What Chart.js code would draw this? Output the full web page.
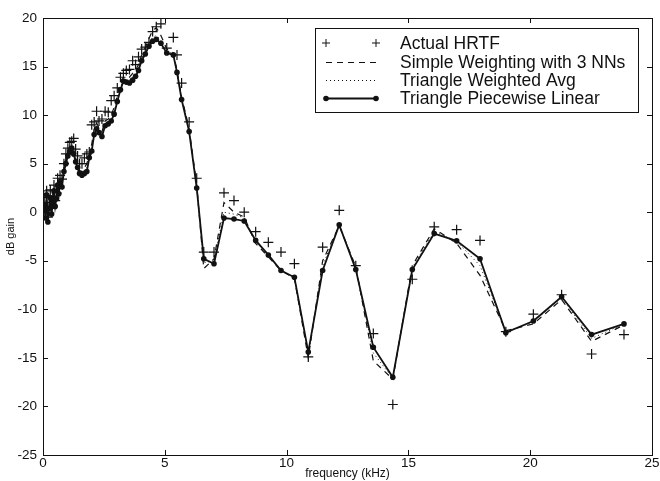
<!DOCTYPE html>
<html lang="en">
  <head>
    <meta charset="UTF-8" />
    <title>HRTF interpolation</title>
    <script src="https://cdn.jsdelivr.net/npm/chart.js"></script>
    <style>
      body { margin: 0; background: #fff; }
    </style>
  </head>
  <body>
    <canvas id="hrtfChart" width="660" height="481"></canvas>

    <script>
      // frequency (kHz) of each sampled point
      const freqs = [
        0.05, 0.1, 0.15, 0.2, 0.25, 0.3, 0.35, 0.4, 0.45, 0.5,
        0.55, 0.6, 0.65, 0.7, 0.78, 0.86, 0.94, 1.02, 1.1, 1.18,
        1.26, 1.34, 1.42, 1.5, 1.6, 1.7, 1.8, 1.9, 2.0, 2.1,
        2.2, 2.3, 2.42, 2.55, 2.68, 2.8, 2.92, 3.05, 3.18, 3.3,
        3.42, 3.55, 3.68, 3.8, 3.92, 4.05, 4.2, 4.35, 4.5, 4.65,
        4.84, 5.08, 5.35, 5.5, 5.69, 6.0, 6.31, 6.6, 7.02, 7.43,
        7.84, 8.26, 8.73, 9.25, 9.77, 10.32, 10.89, 11.48, 12.16, 12.84,
        13.56, 14.36, 15.16, 16.06, 16.98, 17.94, 19.0, 20.13, 21.29, 22.52,
        23.85,
      ];

      const actualHRTF = [
        1.5, 0.2, 2.2, -0.5, 1.0, 2.3, 0.4, 1.5, 2.8, 1.2,
        2.0, 3.5, 2.6, 3.8, 3.4, 5.0, 6.0, 6.6, 7.2, 7.3,
        7.6, 6.5, 5.8, 5.0, 5.0, 5.6, 6.0, 6.2, 9.0, 9.3,
        10.4, 9.4, 9.6, 10.4, 10.3, 11.5, 12.0, 12.8, 13.9, 14.3,
        14.6, 14.7, 15.6, 15.2, 16.0, 16.8, 17.0, 17.5, 18.6, 19.1,
        19.4, 16.9, 18.0, 16.2, 13.3, 9.3, 3.5, -4.1, -4.1, 2.0,
        1.2, 0.0, -2.0, -3.1, -4.1, -5.3, -14.9, -3.6, 0.2, -5.5,
        -12.5, -19.8, -6.9, -1.5, -1.8, -2.9, -12.3, -10.5, -8.5, -14.6,
        -12.6,
      ];

      const simpleNN = [
        1.0, -0.3, 2.0, -0.7, 0.7, 1.8, 0.1, 1.2, 2.5, 0.9,
        1.7, 3.1, 2.2, 3.4, 3.0, 4.6, 5.5, 6.3, 6.8, 7.0,
        6.5, 5.6, 4.9, 4.3, 4.2, 4.6, 5.0, 6.0, 7.0, 8.6,
        9.2, 8.7, 8.3, 9.4, 9.6, 10.0, 10.8, 12.0, 13.1, 13.9,
        13.9, 13.9, 14.3, 14.6, 15.2, 16.2, 17.0, 17.9, 18.7, 19.0,
        18.2, 16.8, 16.4, 14.6, 11.9, 8.6, 2.8, -5.8, -4.8, 1.0,
        0.0, -0.5, -3.2, -4.6, -6.0, -6.8, -15.0, -5.0, -1.4, -5.6,
        -15.3, -17.2, -5.5, -1.7, -3.2, -6.5, -12.2, -11.5, -9.0, -13.3,
        -11.6,
      ];

      const triAvg = [
        0.9, -0.5, 1.9, -0.9, 0.5, 1.6, -0.1, 1.0, 2.3, 0.7,
        1.5, 2.9, 2.0, 3.2, 2.8, 4.4, 5.2, 6.0, 6.4, 6.8,
        6.2, 5.4, 4.7, 4.1, 4.0, 4.3, 4.6, 5.8, 6.6, 8.3,
        8.9, 8.4, 8.0, 9.1, 9.3, 9.7, 10.4, 11.7, 12.8, 13.7,
        13.6, 13.6, 13.9, 14.3, 14.9, 15.9, 16.6, 17.4, 18.0, 18.2,
        17.7, 16.6, 16.3, 14.5, 11.8, 8.4, 2.6, -5.2, -5.0, 0.0,
        -0.2, -0.6, -3.0, -4.5, -6.0, -6.7, -14.6, -5.5, -1.3, -5.8,
        -14.5, -17.1, -5.7, -2.0, -3.0, -5.5, -12.3, -11.3, -8.8, -13.0,
        -11.5,
      ];

      const triLinear = [
        0.8, -0.6, 1.8, -1.0, 0.4, 1.5, -0.2, 0.9, 2.2, 0.6,
        1.4, 2.8, 1.9, 3.1, 2.6, 4.2, 5.0, 5.8, 6.2, 6.6,
        6.0, 5.2, 4.6, 4.0, 3.8, 4.0, 4.2, 5.6, 6.3, 8.0,
        8.6, 8.2, 7.8, 8.9, 9.1, 9.4, 10.1, 11.4, 12.6, 13.5,
        13.4, 13.3, 13.6, 14.0, 14.6, 15.6, 16.3, 17.1, 17.6, 17.8,
        17.4, 16.4, 16.2, 14.4, 11.6, 8.3, 2.5, -4.8, -5.3, -0.6,
        -0.7, -0.9, -2.9, -4.4, -6.0, -6.7, -14.4, -6.0, -1.3, -5.9,
        -13.9, -17.0, -5.9, -2.2, -2.95, -4.8, -12.4, -11.2, -8.7, -12.6,
        -11.5,
      ];

      const legendLabels = [
        "Actual HRTF",
        "Simple Weighting with 3 NNs",
        "Triangle Weighted Avg",
        "Triangle Piecewise Linear",
      ];

      const FONT = "'Liberation Sans', Arial, Helvetica, sans-serif";
      const INK = "#111";

      function toPoints(values) {
        return freqs.map((f, i) => ({ x: f, y: values[i] }));
      }

      // matlab-like frame: box, inward ticks on all sides, boxed legend
      const matlabFrame = {
        id: "matlabFrame",
        afterDraw(chart) {
          const { ctx, chartArea: a, scales } = chart;
          ctx.save();
          ctx.strokeStyle = INK;
          ctx.lineWidth = 1;
          ctx.strokeRect(Math.round(a.left) + 0.5, Math.round(a.top) + 0.5,
            Math.round(a.right - a.left), Math.round(a.bottom - a.top));

          const tl = 5;
          ctx.beginPath();
          scales.x.ticks.forEach((t) => {
            const px = Math.round(scales.x.getPixelForValue(t.value)) + 0.5;
            ctx.moveTo(px, a.bottom); ctx.lineTo(px, a.bottom - tl);
            ctx.moveTo(px, a.top); ctx.lineTo(px, a.top + tl);
          });
          scales.y.ticks.forEach((t) => {
            const py = Math.round(scales.y.getPixelForValue(t.value)) + 0.5;
            ctx.moveTo(a.left, py); ctx.lineTo(a.left + tl, py);
            ctx.moveTo(a.right, py); ctx.lineTo(a.right - tl, py);
          });
          ctx.stroke();

          // legend
          const bx = 315.5, by = 28.5, bw = 323, bh = 84;
          ctx.fillStyle = "#fff";
          ctx.fillRect(bx, by, bw, bh);
          ctx.strokeRect(bx, by, bw, bh);
          const rows = [43, 62, 80, 98];
          const x1 = 326, x2 = 376;
          ctx.font = "17.5px " + FONT;
          ctx.textBaseline = "middle";
          ctx.fillStyle = INK;
          rows.forEach((ry, i) => {
            ctx.beginPath();
            ctx.lineWidth = 1;
            if (i === 0) {
              [x1, x2].forEach((cx) => {
                ctx.moveTo(cx - 4, ry); ctx.lineTo(cx + 4, ry);
                ctx.moveTo(cx, ry - 4); ctx.lineTo(cx, ry + 4);
              });
              ctx.stroke();
            } else {
              ctx.setLineDash(i === 1 ? [6, 5] : i === 2 ? [1, 3] : []);
              ctx.lineWidth = i === 3 ? 1.8 : 1;
              ctx.moveTo(x1, ry + 0.5); ctx.lineTo(x2, ry + 0.5);
              ctx.stroke();
              ctx.setLineDash([]);
              if (i === 3) {
                [x1, x2].forEach((cx) => {
                  ctx.beginPath();
                  ctx.arc(cx, ry + 0.5, 2.8, 0, Math.PI * 2);
                  ctx.fill();
                });
              }
            }
            ctx.fillText(legendLabels[i], 400, ry + 1);
          });
          ctx.restore();
        },
      };

      new Chart(document.getElementById("hrtfChart"), {
        type: "line",
        data: {
          datasets: [
            {
              label: legendLabels[3],
              data: toPoints(triLinear),
              borderColor: INK,
              backgroundColor: INK,
              borderWidth: 1.8,
              pointRadius: 2.8,
              pointBackgroundColor: INK,
              pointBorderWidth: 0,
            },
            {
              label: legendLabels[2],
              data: toPoints(triAvg),
              borderColor: INK,
              borderWidth: 1,
              borderDash: [1, 3],
              pointRadius: 0,
            },
            {
              label: legendLabels[1],
              data: toPoints(simpleNN),
              borderColor: INK,
              borderWidth: 1.2,
              borderDash: [6, 5],
              pointRadius: 0,
            },
            {
              label: legendLabels[0],
              data: toPoints(actualHRTF),
              showLine: false,
              pointStyle: "cross",
              pointRadius: 5,
              pointBorderWidth: 1.2,
              pointBorderColor: INK,
            },
          ],
        },
        options: {
          responsive: false,
          animation: false,
          devicePixelRatio: 1,
          layout: { padding: { top: 18, right: 8, left: 0, bottom: 0 } },
          plugins: { legend: { display: false }, tooltip: { enabled: false } },
          scales: {
            x: {
              type: "linear",
              min: 0,
              max: 25,
              grid: { display: false, drawTicks: false },
              border: { display: false },
              ticks: { stepSize: 5, color: INK, padding: 0, font: { family: FONT, size: 13.5 } },
              title: { display: true, text: "frequency (kHz)", color: INK, padding: 0, font: { family: FONT, size: 12 } },
              afterFit(scale) { scale.height = 26; },
            },
            y: {
              min: -25,
              max: 20,
              grid: { display: false, drawTicks: false },
              border: { display: false },
              ticks: { stepSize: 5, color: INK, padding: 6, font: { family: FONT, size: 13.5 } },
              title: { display: true, text: "dB gain", color: INK, padding: { top: 4, bottom: 0 }, font: { family: FONT, size: 11 } },
              afterFit(scale) { scale.width = 43; },
            },
          },
        },
        plugins: [matlabFrame],
      });
    </script>
  </body>
</html>
